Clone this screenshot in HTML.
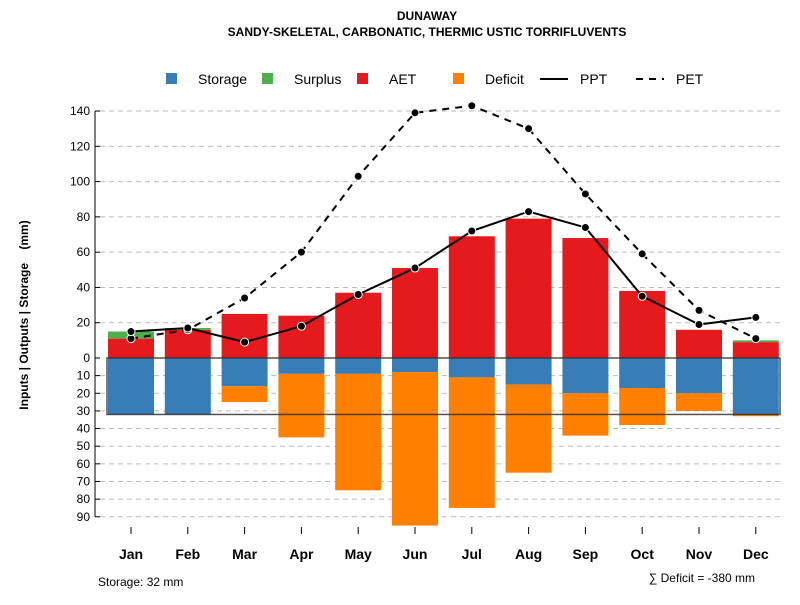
<!DOCTYPE html>
<html><head><meta charset="utf-8"><style>
body{margin:0;background:#fff;font-family:"Liberation Sans",Arial,sans-serif}
svg text{font-family:"Liberation Sans",Arial,sans-serif}
</style></head><body>
<svg id="c" width="800" height="600">
<text x="427" y="20" text-anchor="middle" font-size="12" font-weight="bold">DUNAWAY</text>
<text x="427" y="36" text-anchor="middle" font-size="12" font-weight="bold">SANDY-SKELETAL, CARBONATIC, THERMIC USTIC TORRIFLUVENTS</text>
<g font-size="14">
<rect x="166" y="73" width="11" height="11" fill="#377eb8"/><text x="198" y="84">Storage</text>
<rect x="262" y="73" width="11" height="11" fill="#4daf4a"/><text x="294" y="84">Surplus</text>
<rect x="357" y="73" width="11" height="11" fill="#e41a1c"/><text x="389" y="84">AET</text>
<rect x="453" y="73" width="11" height="11" fill="#ff7f00"/><text x="485" y="84">Deficit</text>
<line x1="540" y1="79" x2="568" y2="79" stroke="#000" stroke-width="2"/><text x="580" y="84">PPT</text>
<line x1="636" y1="79" x2="664" y2="79" stroke="#000" stroke-width="2" stroke-dasharray="7,6"/><text x="676" y="84">PET</text>
</g>
<text transform="translate(28,315) rotate(-90)" text-anchor="middle" font-size="12" font-weight="bold" style="white-space:pre">Inputs | Outputs | Storage    (mm)</text>
<text x="98" y="586" font-size="12">Storage: 32 mm</text>
<text x="755" y="582" text-anchor="end" font-size="12">∑ Deficit = -380 mm</text>
<g id="g"></g>
</svg>
<script>
const months=["Jan","Feb","Mar","Apr","May","Jun","Jul","Aug","Sep","Oct","Nov","Dec"];
const storage=[32,32,16,9,9,8,11,15,20,17,20,32];
const deficit=[0,0,9,36,66,87,74,50,24,21,10,1];
const aet=[11,16,25,24,37,51,69,79,68,38,16,9];
const surplus=[4,1,0,0,0,0,0,0,0,0,0,1];
const ppt=[15,17,9,18,36,51,72,83,74,35,19,23];
const pet=[11,16,34,60,103,139,143,130,93,59,27,11];
const posTicks=[0,20,40,60,80,100,120,140];
const negTicks=[10,20,30,40,50,60,70,80,90];
const capacity=32;
const NS="http://www.w3.org/2000/svg";
const g=document.getElementById('g');
function y(v){return 358-v*1.764;}
function x(i){return 131+i*56.8;}
function el(t,a){const e=document.createElementNS(NS,t);for(const k in a)e.setAttribute(k,a[k]);g.appendChild(e);return e;}
posTicks.forEach(t=>{if(t>0){const l=el('line',{x1:100,x2:780,y1:y(t),y2:y(t),stroke:'#bbb','stroke-dasharray':'5,4'});

}
const tx=el('text',{x:90,y:y(t)+4,'text-anchor':'end','font-size':12});tx.textContent=t;


el('line',{x1:95,x2:100,y1:y(t),y2:y(t),stroke:'#000'});});
negTicks.forEach(t=>{const l=el('line',{x1:100,x2:780,y1:y(-t),y2:y(-t),stroke:'#bbb','stroke-dasharray':'5,4'});


const tx=el('text',{x:90,y:y(-t)+4,'text-anchor':'end','font-size':12});tx.textContent=t;


el('line',{x1:95,x2:100,y1:y(-t),y2:y(-t),stroke:'#000'});});
el('line',{x1:95,x2:95,y1:y(140),y2:y(-90),stroke:'#000'});
const hw=23;
months.forEach((m,i)=>{
 const cx=x(i);
 let r=el('rect',{x:cx-hw,y:y(aet[i]),width:2*hw,height:aet[i]*1.764,fill:'#e41a1c'});
 
 
 if(surplus[i]>0){r=el('rect',{x:cx-hw,y:y(aet[i]+surplus[i]),width:2*hw,height:surplus[i]*1.764,fill:'#4daf4a'});
 
 }
 r=el('rect',{x:cx-hw,y:y(0),width:2*hw,height:storage[i]*1.764,fill:'#377eb8'});
 
 
 if(deficit[i]>0){r=el('rect',{x:cx-hw,y:y(-storage[i]),width:2*hw,height:deficit[i]*1.764,fill:'#ff7f00'});
 
 }
 el('line',{x1:cx,x2:cx,y1:527,y2:534,stroke:'#000'});
 const t=el('text',{x:cx,y:559,'text-anchor':'middle','font-size':14,'font-weight':'bold'});t.textContent=m;
 
 
});
const box=el('rect',{x:107,y:y(0),width:673,height:capacity*1.764,fill:'none',stroke:'#333','stroke-width':1.5,opacity:0.85});


function line(arr,dash,name){
 const p=el('polyline',{points:arr.map((v,i)=>x(i)+','+y(v)).join(' '),fill:'none',stroke:'#000','stroke-width':2,'stroke-dasharray':dash});
 
 
 arr.forEach((v,i)=>{const c=el('circle',{cx:x(i),cy:y(v),r:4,fill:'#000',stroke:'#fff','stroke-width':1});
 
 });
}
line(pet,'7,6','pet');
line(ppt,'none','ppt');
</script>
</body></html>
